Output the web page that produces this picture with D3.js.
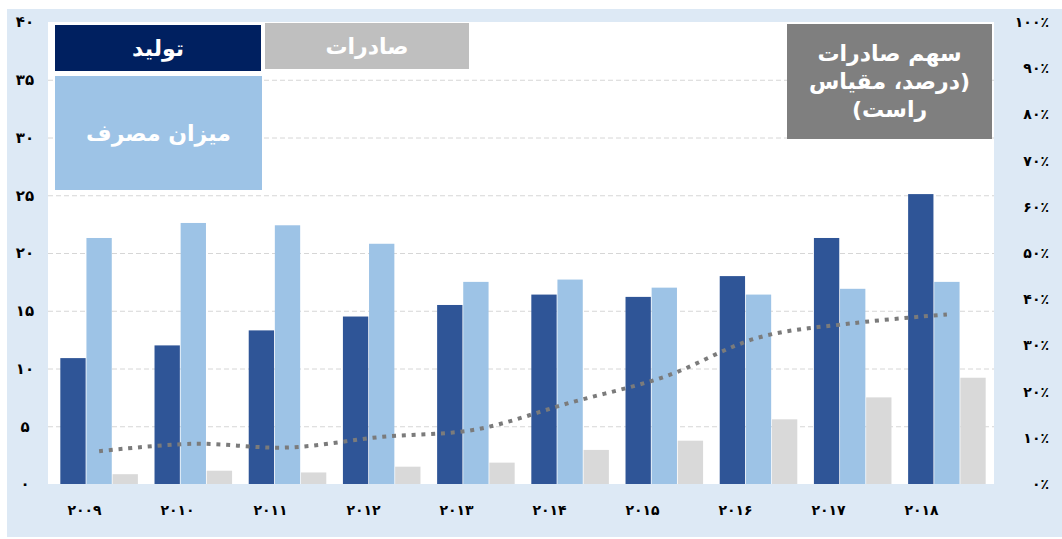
<!DOCTYPE html>
<html>
<head>
<meta charset="utf-8">
<script src="https://cdn.jsdelivr.net/npm/d3@7"></script>
<style>
  body { margin: 0; background: #fff; }
  text { font-family: "DejaVu Sans", sans-serif; font-weight: bold; }
</style>
</head>
<body>
<div id="chart"></div>
<script>
// Data
var years = ["۲۰۰۹", "۲۰۱۰", "۲۰۱۱", "۲۰۱۲", "۲۰۱۳", "۲۰۱۴", "۲۰۱۵", "۲۰۱۶", "۲۰۱۷", "۲۰۱۸"];
var production = [10.9, 12.0, 13.3, 14.5, 15.5, 16.4, 16.2, 18.0, 21.3, 25.1];
var consumption = [21.3, 22.6, 22.4, 20.8, 17.5, 17.7, 17.0, 16.4, 16.9, 17.5];
var exportsVol = [0.85, 1.15, 1.0, 1.5, 1.85, 2.95, 3.75, 5.6, 7.5, 9.2];
var exportShare = [7.1, 8.7, 7.9, 10.2, 11.8, 17.6, 23.2, 31.7, 34.8, 36.7];

var leftTicks = [0, 5, 10, 15, 20, 25, 30, 35, 40];
var leftLabels = ["۰", "۵", "۱۰", "۱۵", "۲۰", "۲۵", "۳۰", "۳۵", "۴۰"];
var rightTicks = [0, 10, 20, 30, 40, 50, 60, 70, 80, 90, 100];
var rightLabels = ["۰٪", "۱۰٪", "۲۰٪", "۳۰٪", "۴۰٪", "۵۰٪", "۶۰٪", "۷۰٪", "۸۰٪", "۹۰٪", "۱۰۰٪"];

var seriesKeys = ["prod", "cons", "exp"];
var seriesColors = {prod: "#2f5597", cons: "#9dc3e6", exp: "#d9d9d9"};

// Set Margins
var margin = {top: 22, right: 68, bottom: 55, left: 48},
    width = 1062 - margin.left - margin.right,
    height = 539 - margin.top - margin.bottom;

var svg = d3.select("#chart")
  .append("svg")
    .attr("width", 1062)
    .attr("height", 539);

// light blue frame + white plot area
svg.append("rect")
    .attr("x", 7).attr("y", 9)
    .attr("width", 1055).attr("height", 528)
    .attr("fill", "#dde9f5");

var g = svg.append("g")
    .attr("transform", "translate(" + margin.left + "," + margin.top + ")");

g.append("rect")
    .attr("width", width)
    .attr("height", height)
    .attr("fill", "#fff");

// scales
var x0 = d3.scaleBand().domain(years).range([4, width]).paddingInner(0.16).paddingOuter(0.08);
var x1 = d3.scaleBand().domain(seriesKeys).range([0, x0.bandwidth()]).padding(0.03);
var xLabel = d3.scalePoint().domain(years).range([36, 873]);
var y = d3.scaleLinear().domain([0, 40]).range([height, 0]);
var yR = d3.scaleLinear().domain([0, 100]).range([height, 0]);

// gridlines
g.append("g")
    .attr("class", "grid")
    .call(d3.axisLeft(y).tickValues(leftTicks.slice(1, -1)).tickSize(-width).tickFormat(""))
    .call(function(s) { s.select(".domain").remove(); })
    .selectAll("line")
    .attr("stroke", "#d6d6d6")
    .attr("stroke-dasharray", "5,3");

// bars
var rows = years.map(function(yr, i) {
  return {year: yr, prod: production[i], cons: consumption[i], exp: exportsVol[i]};
});

g.selectAll(".group")
  .data(rows)
  .enter().append("g")
    .attr("class", "group")
    .attr("transform", function(d) { return "translate(" + x0(d.year) + ",0)"; })
  .selectAll("rect")
  .data(function(d) { return seriesKeys.map(function(k) { return {key: k, value: d[k]}; }); })
  .enter().append("rect")
    .attr("x", function(d) { return x1(d.key); })
    .attr("y", function(d) { return y(d.value); })
    .attr("width", x1.bandwidth())
    .attr("height", function(d) { return height - y(d.value); })
    .attr("fill", function(d) { return seriesColors[d.key]; });

// export share, dotted line on right scale
var line = d3.line()
    .x(function(d, i) { return x0(years[i]) + x0.bandwidth() / 2; })
    .y(function(d) { return yR(d); })
    .curve(d3.curveCatmullRom.alpha(0.5));

g.append("path")
    .datum(exportShare)
    .attr("d", line)
    .attr("fill", "none")
    .attr("stroke", "#7b7b7b")
    .attr("stroke-width", 4)
    .attr("stroke-dasharray", "4,5.8");

// axes
g.append("g")
    .attr("class", "axis axis--y")
    .call(d3.axisLeft(y).tickValues(leftTicks).tickSize(0)
      .tickFormat(function(d, i) { return leftLabels[i]; }))
    .call(function(s) { s.select(".domain").remove(); })
    .selectAll("text")
    .attr("x", -23)
    .style("text-anchor", "middle")
    .style("font-size", "15px")
    .attr("fill", "#000");

g.append("g")
    .attr("class", "axis axis--y2")
    .attr("transform", "translate(" + width + ",0)")
    .call(d3.axisRight(yR).tickValues(rightTicks).tickSize(0)
      .tickFormat(function(d, i) { return rightLabels[i]; }))
    .call(function(s) { s.select(".domain").remove(); })
    .selectAll("text")
    .attr("x", 55)
    .attr("direction", "ltr")
    .style("text-anchor", "end")
    .style("font-size", "14px")
    .attr("fill", "#000");

g.append("g")
    .attr("class", "axis axis--x")
    .attr("transform", "translate(0," + height + ")")
    .call(d3.axisBottom(xLabel).tickSize(0))
    .call(function(s) { s.select(".domain").remove(); })
    .selectAll("text")
    .attr("y", 26)
    .attr("dy", "0.35em")
    .style("font-size", "14px")
    .attr("fill", "#000");

// legend boxes
var legend = [
  {x: 55, y: 25, w: 206, h: 46, fill: "#002060", lines: ["تولید"]},
  {x: 55, y: 76, w: 207, h: 114, fill: "#9dc3e6", lines: ["میزان مصرف"]},
  {x: 265, y: 23, w: 204, h: 46, fill: "#bfbfbf", lines: ["صادرات"]},
  {x: 787, y: 24, w: 205, h: 115, fill: "#7f7f7f", lines: ["سهم صادرات", "(درصد، مقیاس", "راست)"]}
];

var lg = svg.selectAll(".legend")
  .data(legend)
  .enter().append("g")
    .attr("class", "legend");

lg.append("rect")
    .attr("x", function(d) { return d.x; })
    .attr("y", function(d) { return d.y; })
    .attr("width", function(d) { return d.w; })
    .attr("height", function(d) { return d.h; })
    .attr("fill", function(d) { return d.fill; });

lg.each(function(d) {
  var n = d.lines.length;
  d3.select(this).selectAll("text")
    .data(d.lines)
    .enter().append("text")
      .attr("x", d.x + d.w / 2)
      .attr("y", function(t, i) { return d.y + d.h / 2 + (i - (n - 1) / 2) * 28; })
      .attr("dy", "0.35em")
      .attr("direction", "rtl")
      .style("text-anchor", "middle")
      .style("font-size", "22px")
      .attr("fill", "#fff")
      .text(function(t) { return t; });
});
</script>
</body>
</html>
